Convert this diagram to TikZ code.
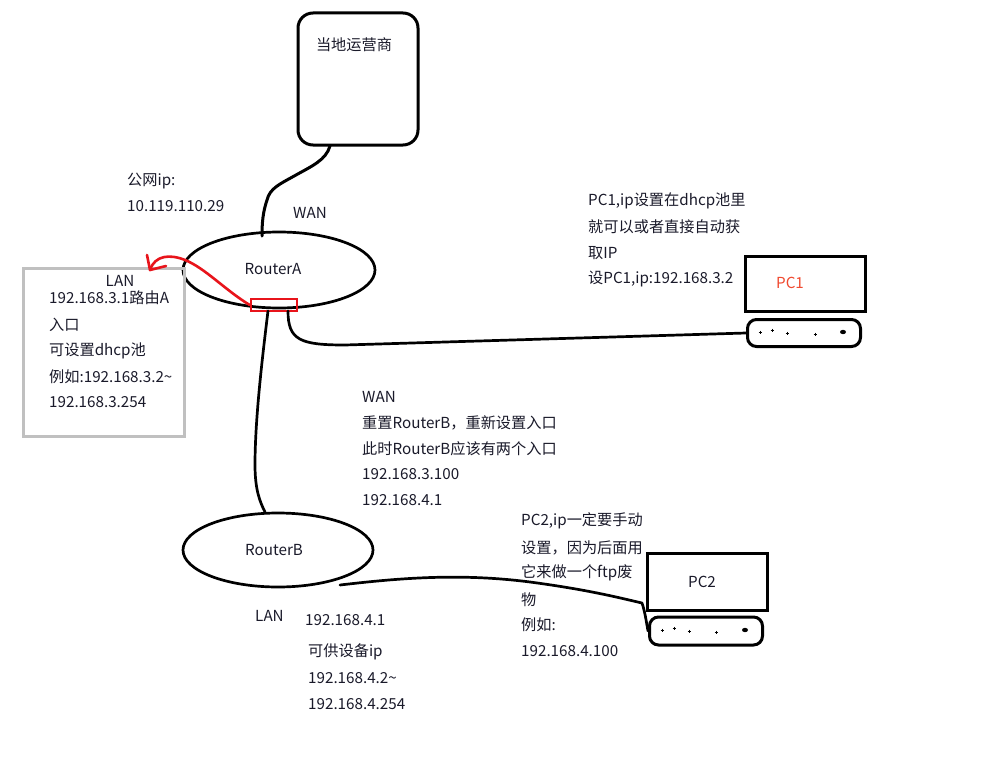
\documentclass[tikz,border=0pt]{standalone}
\usepackage{fontspec}
\setmainfont{Noto Sans CJK SC}
\usetikzlibrary{shapes.geometric}
\definecolor{txt}{HTML}{1A1A2A}
\definecolor{redline}{HTML}{E8141B}
\definecolor{pcred}{HTML}{F04A30}
\definecolor{graybox}{HTML}{C0C0C0}
\tikzset{
  lbl/.style={anchor=west,inner sep=0pt,text=txt,font=\fontsize{15.2}{17}\selectfont},
  clbl/.style={anchor=center,inner sep=0pt,text=txt,font=\fontsize{15.2}{17}\selectfont},
  wire/.style={draw=black,line width=3pt,line cap=round,line join=round},
  thinwire/.style={draw=black,line width=2.7pt,line cap=round,line join=round},
  router/.style={ellipse,draw=black,line width=2.7pt,minimum width=192pt,minimum height=76pt,inner sep=0pt},
  monitor/.style={rectangle,draw=black,line width=3pt,inner sep=0pt},
  kbd/.style={rectangle,rounded corners=9pt,draw=black,line width=3pt,inner sep=0pt,minimum width=113pt,minimum height=27pt},
  dotmark/.style={draw=black,line width=0.8pt}
}
\begin{document}
\begin{tikzpicture}[x=1pt,y=-1pt]
\useasboundingbox[fill=white] (0,0) rectangle (984,757);

% ISP box
\node[draw=black,line width=3pt,rounded corners=15pt,minimum width=120pt,minimum height=132pt,inner sep=0pt] (isp) at (358,79) {};
\node[clbl] (isptxt) at (354,45) {当地运营商};

% Routers
\node[router] (ra) at (279,270) {};
\node[clbl] (ratxt) at (273,269) {RouterA};
\node[router,minimum width=190pt,minimum height=74pt] (rb) at (278,550) {};
\node[clbl] (rbtxt) at (274,550) {RouterB};

% red port on RouterA
\node[draw=redline,line width=2.6pt,minimum width=46pt,minimum height=12pt,inner sep=0pt] (port) at (274,305) {};

% ISP -> RouterA wavy line
\coordinate (ispb) at (330,146);
\coordinate (ratop) at (262,236);
\draw[wire] (ispb) .. controls (326,160) and (312,166) .. (296,175)
  .. controls (280,184) and (270,188) .. (267,200)
  .. controls (263,212) and (262,222) .. (ratop);

% RouterA -> RouterB
\coordinate (rabot) at (268,311);
\coordinate (rbtop) at (265,512);
\draw[thinwire] (rabot) .. controls (262,360) and (255,420) .. (255,465)
  .. controls (255,490) and (260,502) .. (rbtop);

% PC1
\node[monitor,minimum width=120pt,minimum height=55pt] (pc1) at (805,284) {};
\node[clbl,text=pcred] (pc1txt) at (790,283) {PC1};
\node[kbd] (kb1) at (804,333) {};
\draw[thinwire] (288,311) .. controls (288,340) and (300,345) .. (345,345) -- (kb1.west);

% PC2
\node[monitor,minimum width=120pt,minimum height=57pt] (pc2) at (707,582) {};
\node[clbl] (pc2txt) at (702,582) {PC2};
\node[kbd,minimum width=113pt,minimum height=28pt] (kb2) at (706,631) {};
\coordinate (rbout) at (340,585);
\draw[thinwire] (rbout) .. controls (400,578) and (460,573) .. (530,582)
  .. controls (590,590) and (620,598) .. (642,603)
  .. controls (645,612) and (646,620) .. (kb2.west);

% keyboard dots
\foreach \kx/\ky in {760/332, 772/330, 787/333, 815/334}{
  \draw[dotmark] (\kx-1.5,\ky) -- (\kx+1.5,\ky) (\kx,\ky-1.5) -- (\kx,\ky+1.5);
}
\fill (843,332) ellipse (3pt and 2.2pt);
\foreach \kx/\ky in {662/630, 674/628, 689/631, 716/632}{
  \draw[dotmark] (\kx-1.5,\ky) -- (\kx+1.5,\ky) (\kx,\ky-1.5) -- (\kx,\ky+1.5);
}
\fill (745,630) ellipse (3pt and 2.2pt);

% gray LAN box
\node[draw=graybox,line width=3pt,minimum width=161pt,minimum height=168pt,inner sep=0pt] (lanbox) at (103.5,352) {};
\node[clbl] (lanA) at (120,281) {LAN};
\node[lbl] (la1) at (49,298) {192.168.3.1路由A};
\node[lbl] (la2) at (49,325) {入口};
\node[lbl] (la3) at (49,351) {可设置dhcp池};
\node[lbl] (la4) at (49,377) {例如:192.168.3.2\char"007E};
\node[lbl] (la5) at (49,402) {192.168.3.254};

% red arrow from port to LAN box
\coordinate (rtip) at (150,270);
\draw[draw=redline,line width=2.6pt,line cap=round,line join=round]
  (port.west) .. controls (225,290) and (205,268) .. (185,260)
  .. controls (170,254) and (155,255) .. (rtip);
\draw[draw=redline,line width=2.6pt,line cap=round,line join=round]
  (147,255) -- (rtip) -- (166,266);

% public ip labels
\node[lbl] (pub1) at (127,181) {公网ip:};
\node[lbl] (pub2) at (127,206) {10.119.110.29};
\node[lbl] (wanA) at (293,213) {WAN};

% PC1 notes
\node[lbl] (p1a) at (588,201) {PC1,ip设置在dhcp池里};
\node[lbl] (p1b) at (588,227) {就可以或者直接自动获};
\node[lbl] (p1c) at (588,253) {取IP};
\node[lbl] (p1d) at (588,279) {设PC1,ip:192.168.3.2};

% WAN of RouterB notes
\node[lbl] (wb1) at (362,397) {WAN};
\node[lbl] (wb2) at (362,423) {重置RouterB，重新设置入口};
\node[lbl] (wb3) at (362,449) {此时RouterB应该有两个入口};
\node[lbl] (wb4) at (362,474) {192.168.3.100};
\node[lbl] (wb5) at (362,500) {192.168.4.1};

% PC2 notes
\node[lbl] (p2a) at (521,521) {PC2,ip一定要手动};
\node[lbl] (p2b) at (521,548) {设置，因为后面用};
\node[lbl] (p2c) at (521,573) {它来做一个ftp废};
\node[lbl] (p2d) at (521,600) {物};
\node[lbl] (p2e) at (521,625) {例如:};
\node[lbl] (p2f) at (521,651) {192.168.4.100};

% RouterB LAN notes
\node[lbl] (lanB) at (255,616) {LAN};
\node[lbl] (lb1) at (305,620) {192.168.4.1};
\node[lbl] (lb2) at (308,652) {可供设备ip};
\node[lbl] (lb3) at (308,678) {192.168.4.2\char"007E};
\node[lbl] (lb4) at (308,704) {192.168.4.254};
\end{tikzpicture}
\end{document}
